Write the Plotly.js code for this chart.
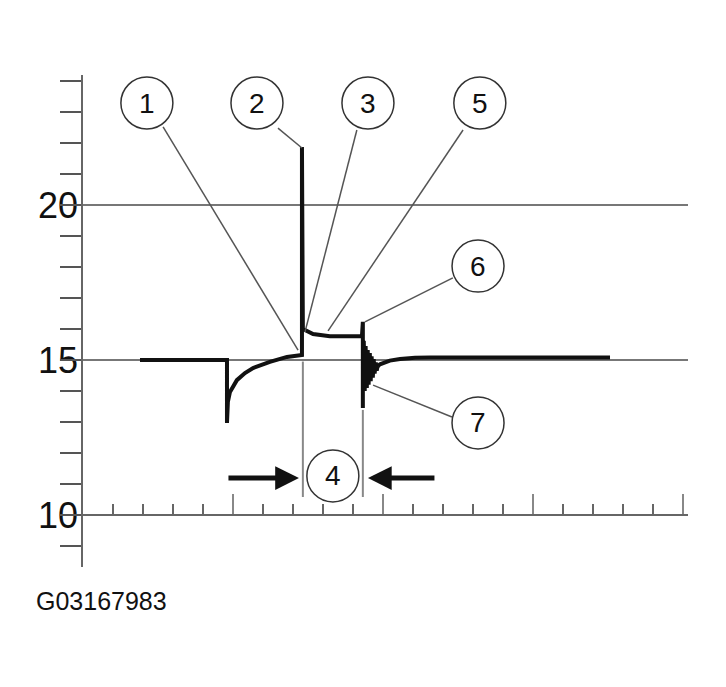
<!DOCTYPE html>
<html>
<head>
<meta charset="utf-8">
<script src="https://cdn.plot.ly/plotly-3.0.1.min.js"></script>
<style>
  html, body { margin: 0; padding: 0; background: #fff; }
  #divPlot { width: 726px; height: 687px; }
</style>
</head>
<body>
<div id="divPlot"></div>
<script>
// waveform (x in time divisions, y in volts)
const dwellX = [1.9, 4.8, 4.8, 4.83, 4.9, 5.13, 5.4, 5.67, 6.23, 6.8, 7.3, 7.3, 7.33, 7.4, 7.67, 8.23, 9.3, 9.33, 9.33];
const dwellY = [15.0, 15.0, 12.97, 13.65, 13.97, 14.35, 14.58, 14.74, 14.94, 15.1, 15.16, 21.87, 15.97, 15.97, 15.84, 15.77, 15.77, 16.23, 13.45];

const ringX = [9.33, 9.37, 9.40, 9.43, 9.47, 9.50, 9.53, 9.57, 9.60, 9.63, 9.67, 9.70, 9.73, 9.77, 9.80, 9.83];
const ringY = [15.6, 15.58, 14.0, 15.45, 14.1, 15.32, 14.2, 15.22, 14.32, 15.12, 14.43, 15.03, 14.56, 14.92, 14.66, 14.8];

const recoverX = [9.83, 9.9, 10.23, 10.57, 11.07, 11.57, 17.57];
const recoverY = [14.8, 14.86, 14.98, 15.03, 15.07, 15.08, 15.08];

const yTickVals = [9, 10, 11, 12, 13, 14, 15, 16, 17, 18, 19, 20, 21, 22, 23, 24];
const yLabelVals = [10, 15, 20];
const yLabelText = ['10', '15', '20'];

const ink = '#111';
const thin = '#555';

// numbered callouts: circle centre and leader line (data units)
const callouts = [
  {n : '1', cx : 2.13, cy : 23.29, lx : [2.67, 7.17], ly : [22.52, 15.32]},
  {n : '2', cx : 5.8, cy : 23.29, lx : [6.5, 7.3], ly : [22.48, 21.84]},
  {n : '3', cx : 9.5, cy : 23.29, lx : [9.13, 7.4], ly : [22.42, 15.9]},
  {n : '5', cx : 13.23, cy : 23.29, lx : [12.67, 8.17], ly : [22.42, 15.94]},
  {n : '6', cx : 13.17, cy : 18.03, lx : [12.33, 9.4], ly : [17.65, 16.23]},
  {n : '7', cx : 13.17, cy : 12.97, lx : [12.3, 9.67], ly : [13.16, 14.19]},
  {n : '4', cx : 8.33, cy : 11.26, lx : null, ly : null}
];

const wave = (x, y, w) => ({
  x : x,
  y : y,
  mode : 'lines',
  type : 'scatter',
  line : {color : ink, width : w},
  hoverinfo : 'skip',
  showlegend : false
});

const data = [
  wave(dwellX, dwellY, 4),
  wave(ringX, ringY, 3.5),
  wave(recoverX, recoverY, 4),
  {x : [], y : [], yaxis : 'y2', type : 'scatter', showlegend : false}
];

const shapes = [];
const annotations = [];

callouts.forEach(c => {
  shapes.push({
    type : 'circle', xref : 'x', yref : 'y',
    xsizemode : 'pixel', ysizemode : 'pixel',
    xanchor : c.cx, yanchor : c.cy,
    x0 : -26, x1 : 26, y0 : -26, y1 : 26,
    line : {color : '#333', width : 1.5}, layer : 'above'
  });
  annotations.push({
    x : c.cx, y : c.cy, xref : 'x', yref : 'y', text : c.n, showarrow : false,
    font : {family : 'Liberation Sans, Arial, sans-serif', size : 28, color : ink}
  });
  if (c.lx) {
    shapes.push({
      type : 'line', xref : 'x', yref : 'y',
      x0 : c.lx[0], y0 : c.ly[0], x1 : c.lx[1], y1 : c.ly[1],
      line : {color : thin, width : 1.5}
    });
  }
});

// the dwell bracket (4): two guide lines and two arrows
shapes.push({type : 'line', xref : 'x', yref : 'y', x0 : 7.33, x1 : 7.33, y0 : 14.95, y1 : 10.58,
             line : {color : '#888', width : 2}});
shapes.push({type : 'line', xref : 'x', yref : 'y', x0 : 9.33, x1 : 9.33, y0 : 13.39, y1 : 10.58,
             line : {color : '#888', width : 2}});

annotations.push({
  x : 7.2, y : 11.19, xref : 'x', yref : 'y', ax : -72, ay : 0, text : '',
  showarrow : true, arrowhead : 2, arrowsize : 0.95, arrowwidth : 5, arrowcolor : ink
});
annotations.push({
  x : 9.5, y : 11.19, xref : 'x', yref : 'y', ax : 68, ay : 0, text : '',
  showarrow : true, arrowhead : 2, arrowsize : 0.95, arrowwidth : 5, arrowcolor : ink
});

annotations.push({
  x : -0.081, y : -0.069, xref : 'paper', yref : 'paper', xanchor : 'left', yanchor : 'middle',
  text : 'G03167983', showarrow : false,
  font : {family : 'Liberation Sans, Arial, sans-serif', size : 25, color : ink}
});

const yRange = [8.3226, 24.1935];

const layout = {
  width : 726,
  height : 687,
  autosize : false,
  margin : {l : 83, r : 38, t : 75, b : 120, pad : 0},
  paper_bgcolor : '#fff',
  plot_bgcolor : '#fff',
  showlegend : false,
  font : {family : 'Liberation Sans, Arial, sans-serif', color : ink},
  xaxis : {
    range : [0, 20.17],
    anchor : 'free',
    position : 0.1057,
    showline : true, linecolor : '#666', linewidth : 2,
    ticks : 'inside', tick0 : 0, dtick : 5, ticklen : 20, tickwidth : 2, tickcolor : '#888',
    minor : {ticks : 'inside', tick0 : 0, dtick : 1, ticklen : 10, tickwidth : 2, tickcolor : '#666'},
    showticklabels : false, showgrid : false, zeroline : false, fixedrange : true
  },
  yaxis : {
    range : yRange,
    showline : false,
    ticks : '',
    ticklabelstandoff : 4,
    tickmode : 'array', tickvals : yLabelVals, ticktext : yLabelText,
    tickfont : {size : 36, color : ink},
    showgrid : true, gridcolor : '#777', gridwidth : 1.5,
    zeroline : false, fixedrange : true
  },
  yaxis2 : {
    range : yRange,
    overlaying : 'y', side : 'left', anchor : 'x',
    showline : true, linecolor : '#666', linewidth : 2,
    ticks : 'outside', tickmode : 'array', tickvals : yTickVals, ticklen : 21, tickwidth : 2, tickcolor : '#555',
    showticklabels : false, showgrid : false, zeroline : false, fixedrange : true
  },
  shapes : shapes,
  annotations : annotations
};

Plotly.newPlot('divPlot', data, layout, {staticPlot : true});
</script>
</body>
</html>
